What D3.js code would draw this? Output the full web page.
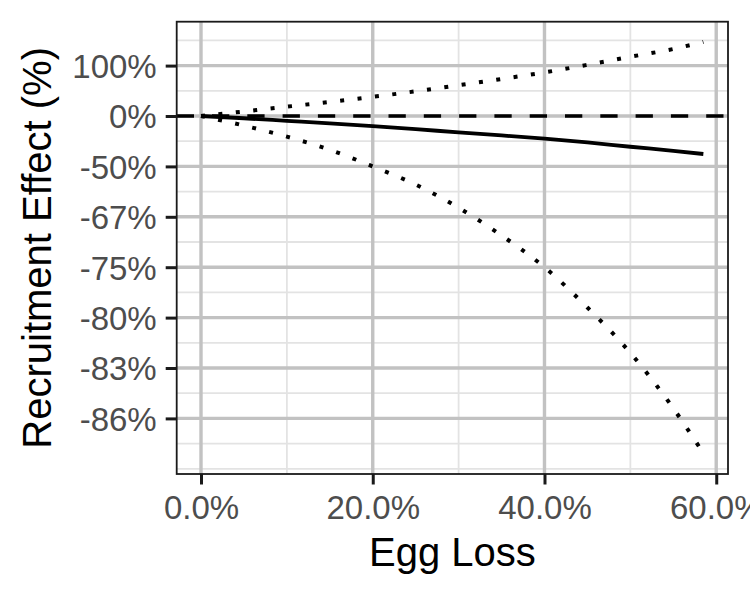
<!DOCTYPE html>
<html>
<head>
<meta charset="utf-8">
<script src="https://cdn.jsdelivr.net/npm/d3@7"></script>
<style>
  html, body { margin: 0; padding: 0; background: #fff; }
  svg { display: block; font-family: "Liberation Sans", Arial, Helvetica, sans-serif; }
</style>
</head>
<body>
<svg id="chart" width="750" height="600"></svg>
<script>
// ---- Data ----
const eggLoss       = [0, 0.05, 0.10, 0.15, 0.20, 0.25, 0.30, 0.35, 0.40, 0.45, 0.50, 0.55, 0.585];
const effectMid     = [0, -0.045, -0.095, -0.145, -0.20, -0.26, -0.325, -0.385, -0.45, -0.525, -0.61, -0.69, -0.754];
const effectUpper   = [0, 0.09, 0.185, 0.28, 0.38, 0.49, 0.61, 0.735, 0.865, 1.015, 1.175, 1.33, 1.47];
const effectLower   = [0, -0.19, -0.41, -0.67, -1.0, -1.36, -1.82, -2.37, -3.0, -3.8, -4.7, -5.8, -6.69];

const xTickValues   = [0, 0.2, 0.4, 0.6];
const xTickLabels   = ["0.0%", "20.0%", "40.0%", "60.0%"];
const xMinorValues  = [0.1, 0.3, 0.5];
const yTickValues   = [1, 0, -1, -2, -3, -4, -5, -6];
const yTickLabels   = ["100%", "0%", "-50%", "-67%", "-75%", "-80%", "-83%", "-86%"];
const yMinorValues  = [1.5, 0.5, -0.5, -1.5, -2.5, -3.5, -4.5, -5.5, -6.5, -7];

const xTitle = "Egg Loss";
const yTitle = "Recruitment Effect (%)";

// ---- Layout ----
const panel = { left: 176.7, right: 728, top: 21.7, bottom: 474 };

const svg = d3.select("#chart");
svg.append("rect").attr("width", 750).attr("height", 600).attr("fill", "#fff");

const x = d3.scaleLinear().domain([-0.0283, 0.6137]).range([panel.left, panel.right]);
const y = d3.scaleLinear().domain([-7.103, 1.871]).range([panel.bottom, panel.top]);

svg.append("defs").append("clipPath").attr("id", "clip")
  .append("rect")
  .attr("x", panel.left).attr("y", panel.top)
  .attr("width", panel.right - panel.left).attr("height", panel.bottom - panel.top);

const g = svg.append("g").attr("clip-path", "url(#clip)");

// minor grid
g.selectAll(".xminor").data(xMinorValues).join("line")
  .attr("x1", d => x(d)).attr("x2", d => x(d))
  .attr("y1", panel.top).attr("y2", panel.bottom)
  .attr("stroke", "#e3e3e3").attr("stroke-width", 1.8);
g.selectAll(".yminor").data(yMinorValues).join("line")
  .attr("y1", d => y(d)).attr("y2", d => y(d))
  .attr("x1", panel.left).attr("x2", panel.right)
  .attr("stroke", "#e3e3e3").attr("stroke-width", 1.8);

// major grid
g.selectAll(".xmajor").data(xTickValues).join("line")
  .attr("x1", d => x(d)).attr("x2", d => x(d))
  .attr("y1", panel.top).attr("y2", panel.bottom)
  .attr("stroke", "#c2c2c2").attr("stroke-width", 3.4);
g.selectAll(".ymajor").data(yTickValues).join("line")
  .attr("y1", d => y(d)).attr("y2", d => y(d))
  .attr("x1", panel.left).attr("x2", panel.right)
  .attr("stroke", "#c2c2c2").attr("stroke-width", 3.4);

// reference dashed line at zero
g.append("line")
  .attr("x1", panel.left).attr("x2", panel.right)
  .attr("y1", y(0)).attr("y2", y(0))
  .attr("stroke", "#000").attr("stroke-width", 3.6)
  .attr("stroke-dasharray", "17.3 18");

// data lines
const pts = arr => eggLoss.map((e, i) => [e, arr[i]]);
const line = d3.line().x(d => x(d[0])).y(d => y(d[1])).curve(d3.curveMonotoneX);

g.append("path").datum(pts(effectUpper)).attr("d", line)
  .attr("fill", "none").attr("stroke", "#000").attr("stroke-width", 4)
  .attr("stroke-dasharray", "4 13.5");
g.append("path").datum(pts(effectLower)).attr("d", line)
  .attr("fill", "none").attr("stroke", "#000").attr("stroke-width", 4)
  .attr("stroke-dasharray", "4 13.5");
g.append("path").datum(pts(effectMid)).attr("d", line)
  .attr("fill", "none").attr("stroke", "#000").attr("stroke-width", 3.8);

// panel border
svg.append("rect")
  .attr("x", panel.left).attr("y", panel.top)
  .attr("width", panel.right - panel.left).attr("height", panel.bottom - panel.top)
  .attr("fill", "none").attr("stroke", "#1a1a1a").attr("stroke-width", 1.8);

// axes
const xAxis = d3.axisBottom(x).tickValues(xTickValues)
  .tickFormat((d, i) => xTickLabels[i]).tickSize(10.5).tickPadding(8);
const yAxis = d3.axisLeft(y).tickValues(yTickValues)
  .tickFormat((d, i) => yTickLabels[i]).tickSize(11).tickPadding(9);

const gx = svg.append("g").attr("transform", `translate(0,${panel.bottom})`).call(xAxis);
const gy = svg.append("g").attr("transform", `translate(${panel.left},0)`).call(yAxis);
[gx, gy].forEach(a => {
  a.select(".domain").remove();
  a.selectAll(".tick line").attr("stroke", "#1a1a1a").attr("stroke-width", 3);
  a.selectAll(".tick text").attr("fill", "#4d4d4d").style("font-size", "33px")
    .style("font-family", "'Liberation Sans', Arial, sans-serif");
});
gx.selectAll(".tick text").attr("dy", null)
  .attr("y", 519 - panel.bottom);
gy.selectAll(".tick text").attr("dy", "0.36em");

// titles
svg.append("text")
  .attr("x", (panel.left + panel.right) / 2).attr("y", 566)
  .attr("text-anchor", "middle").attr("fill", "#000")
  .style("font-size", "40px").text(xTitle);
svg.append("text")
  .attr("transform", `translate(51,${(panel.top + panel.bottom) / 2}) rotate(-90)`)
  .attr("text-anchor", "middle").attr("fill", "#000")
  .style("font-size", "40px").text(yTitle);
</script>
</body>
</html>
